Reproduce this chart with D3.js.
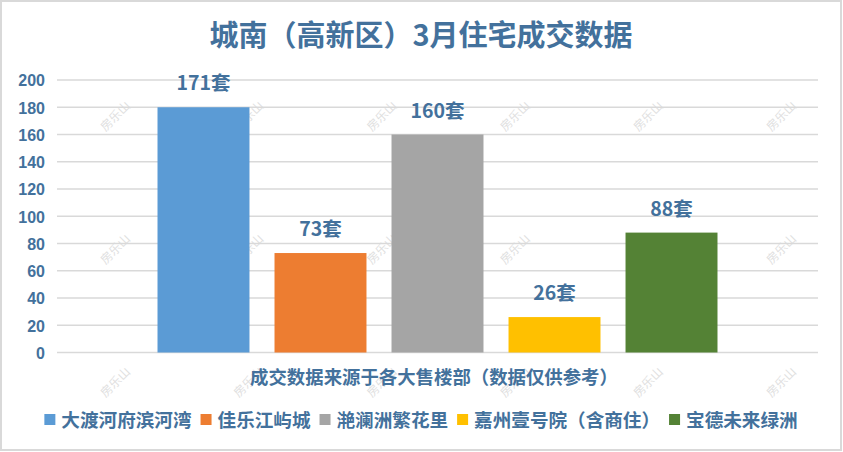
<!DOCTYPE html>
<html><head><meta charset="utf-8">
<script src="https://cdn.jsdelivr.net/npm/d3@7"></script>
<style>
html,body{margin:0;padding:0;background:#fff;}
svg{display:block;}
</style></head>
<body>
<script>
const title = "城南（高新区）3月住宅成交数据";
const categoryLabel = "成交数据来源于各大售楼部（数据仅供参考）";
const seriesNames = ["大渡河府滨河湾", "佳乐江屿城", "滟澜洲繁花里", "嘉州壹号院（含商住）", "宝德未来绿洲"];
const barValues = [180, 73, 160, 26, 88];
const dataLabels = ["171套", "73套", "160套", "26套", "88套"];
const seriesColors = ["#5B9BD5", "#ED7D31", "#A5A5A5", "#FFC000", "#548235"];
const yTicks = [0, 20, 40, 60, 80, 100, 120, 140, 160, 180, 200];

const W = 843, H = 452;
const textColor = "#43719C";
const cjk = "'Noto Sans CJK SC','Noto Sans',sans-serif";
const num = "'Liberation Sans',Arial,sans-serif";

const svg = d3.select("body").append("svg").attr("width", W).attr("height", H);
svg.append("rect").attr("x", 1).attr("y", 1).attr("width", W - 3).attr("height", H - 3)
  .attr("fill", "#fff").attr("stroke", "#D9D9D9").attr("stroke-width", 2);

// watermark
const wm = svg.append("g");
for (let r = 0; r < 3; r++) for (let c = 0; c < 6; c++) {
  wm.append("text").attr("transform", `translate(${116 + c * 133.2},${117 + r * 133}) rotate(-45)`)
    .attr("text-anchor", "middle").attr("dominant-baseline", "middle")
    .attr("font-family", cjk).attr("font-size", 12).attr("fill", "#E0E0E0").text("房乐山");
}

const plot = {left: 57, right: 818, top: 80, bottom: 352.5};
const y = d3.scaleLinear().domain([0, 200]).range([plot.bottom, plot.top]);
const x = d3.scaleBand().domain(seriesNames).range([plot.left, plot.right]).paddingInner(0.214).paddingOuter(0.859);

// gridlines
svg.append("g").selectAll("line").data(yTicks).join("line")
  .attr("x1", plot.left).attr("x2", plot.right)
  .attr("y1", d => y(d)).attr("y2", d => y(d))
  .attr("stroke", "#D9D9D9").attr("stroke-width", 1.5);

// y axis labels
const yAxis = d3.axisLeft(y).tickValues(yTicks).tickSize(0).tickPadding(0);
const ya = svg.append("g").attr("transform", "translate(45,0)").call(yAxis);
ya.select(".domain").remove();
ya.selectAll("text").attr("font-family", num).attr("font-weight", "bold").attr("font-size", 16)
  .attr("fill", textColor).attr("dy", "0.36em");

// bars
svg.append("g").selectAll("rect").data(seriesNames).join("rect")
  .attr("x", d => x(d)).attr("width", x.bandwidth())
  .attr("y", (d, i) => y(barValues[i])).attr("height", (d, i) => y(0) - y(barValues[i]))
  .attr("fill", (d, i) => seriesColors[i]);

// data labels
svg.append("g").selectAll("text").data(seriesNames).join("text")
  .attr("x", d => x(d) + x.bandwidth() / 2)
  .attr("y", (d, i) => y(barValues[i]) - 17)
  .attr("text-anchor", "middle").attr("font-family", cjk).attr("font-weight", "bold")
  .attr("font-size", 19.5).attr("fill", textColor)
  .text((d, i) => dataLabels[i]);

// title
svg.append("text").attr("x", 421).attr("y", 46).attr("text-anchor", "middle")
  .attr("font-family", cjk).attr("font-weight", "bold").attr("font-size", 29)
  .attr("fill", textColor).text(title);

// category label
svg.append("text").attr("x", 434).attr("y", 384).attr("text-anchor", "middle")
  .attr("font-family", cjk).attr("font-weight", "bold").attr("font-size", 18.4)
  .attr("fill", textColor).text(categoryLabel);

// legend
const lg = svg.append("g");
let lx = 0;
const items = [];
seriesNames.forEach((n, i) => {
  const g = lg.append("g");
  g.append("rect").attr("x", 0).attr("y", -6).attr("width", 11).attr("height", 11).attr("fill", seriesColors[i]);
  const t = g.append("text").attr("x", 17).attr("y", 0).attr("dy", "0.35em")
    .attr("font-family", cjk).attr("font-weight", "bold").attr("font-size", 18.6)
    .attr("fill", textColor).text(n);
  const w = t.node().getComputedTextLength();
  items.push({g, x: lx});
  lx += 17 + w + 9;
});
const total = lx - 9;
const startX = 421 - total / 2;
items.forEach(it => it.g.attr("transform", `translate(${startX + it.x},420)`));
</script>
</body></html>
